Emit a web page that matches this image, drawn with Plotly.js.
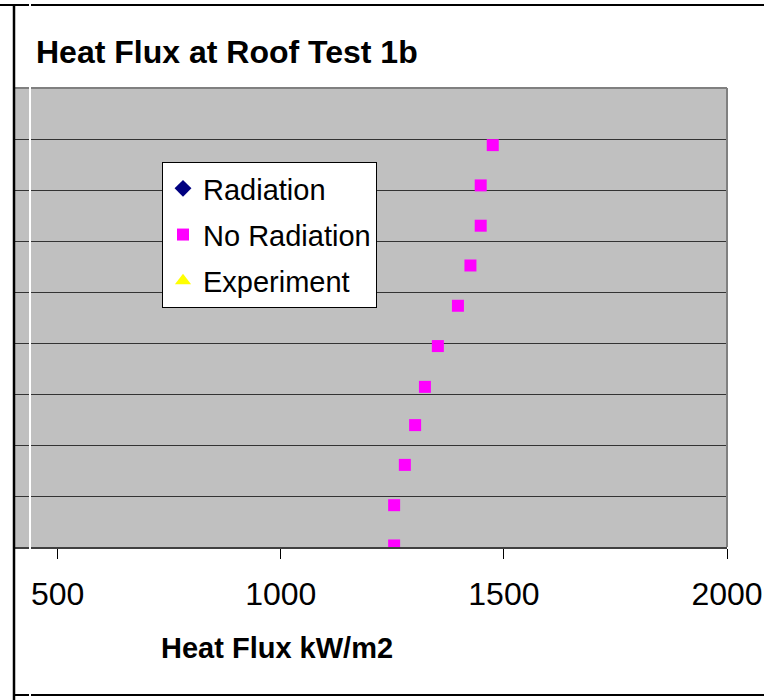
<!DOCTYPE html>
<html>
<head>
<meta charset="utf-8">
<script src="https://cdn.plot.ly/plotly-3.0.1.min.js"></script>
<style>
  html, body { margin: 0; padding: 0; background: #ffffff; }
  #chart { width: 764px; height: 700px; }
</style>
</head>
<body>
<div id="chart"></div>
<script>
// Data (Radiation and Experiment show no visible points)
const seriesNames = ["Radiation", "No Radiation", "Experiment"];
const radiationFlux = [null];
const radiationHeight = [null];
const noRadiationFlux = [1254, 1254, 1278, 1301, 1323, 1352, 1397, 1425, 1448, 1448, 1475];
const noRadiationHeight = [0.03, 0.82, 1.61, 2.39, 3.14, 3.94, 4.73, 5.52, 6.30, 7.09, 7.88];
const experimentFlux = [null];
const experimentHeight = [null];
const xTickValues = [500, 1000, 1500, 2000];
const xTickLabels = ["500", "1000", "1500", "2000"];
const chartTitle = "Heat Flux at Roof Test 1b";
const xAxisTitle = "Heat Flux kW/m2";

const FONT = "Liberation Sans, Arial, Helvetica, sans-serif";

// Plot area in pixels
const W = 764, H = 700;
const L = 15, R = 727, T = 88, B = 547;
const px = x => (x - L) / (R - L);
const py = y => (B - y) / (B - T);

const traces = [
  {
    type: "scatter", mode: "markers", name: seriesNames[0],
    x: radiationFlux, y: radiationHeight, legendgroup: "a",
    marker: { symbol: "diamond", size: 13, color: "#000080" }
  },
  {
    type: "scatter", mode: "markers", name: seriesNames[1],
    x: noRadiationFlux, y: noRadiationHeight, legendgroup: "b",
    marker: { symbol: "square", size: 12, color: "#FF00FF", line: { width: 0 } }
  },
  {
    type: "scatter", mode: "markers", name: seriesNames[2],
    x: experimentFlux, y: experimentHeight, legendgroup: "c",
    marker: { symbol: "triangle-up", size: 14, color: "#FFFF00" }
  }
];

const layout = {
  width: W, height: H,
  margin: { l: L, r: W - R, t: T, b: H - B, pad: 0 },
  paper_bgcolor: "#ffffff",
  plot_bgcolor: "#C0C0C0",
  font: { family: FONT, color: "#000000" },
  showlegend: true,
  title: {
    text: "<b>" + chartTitle + "</b>",
    font: { family: FONT, size: 32, color: "#000000" },
    xref: "container", yref: "container",
    x: 36 / W, xanchor: "left",
    y: 1 - 52 / H, yanchor: "middle"
  },
  xaxis: {
    range: [500 - (57.7 - L) / (669.3 / 1500), 2000],
    tickmode: "array", tickvals: xTickValues, ticktext: xTickLabels,
    ticks: "outside", ticklen: 10, tickwidth: 1, tickcolor: "#000000",
    ticklabelstandoff: 8,
    tickfont: { family: FONT, size: 32, color: "#000000" },
    showgrid: false, zeroline: false,
    showline: true, linecolor: "#404040", linewidth: 2,
    fixedrange: true
  },
  yaxis: {
    range: [0, 9], dtick: 1, tick0: 0,
    showticklabels: false, ticks: "",
    showgrid: true, gridcolor: "#333333", gridwidth: 1,
    zeroline: false, showline: false,
    fixedrange: true
  },
  legend: {
    x: px(162), y: py(162), xanchor: "left", yanchor: "top",
    bgcolor: "#ffffff", bordercolor: "#000000", borderwidth: 1,
    font: { family: FONT, size: 29, color: "#000000" },
    tracegroupgap: 5.5,
    traceorder: "grouped"
  },
  annotations: [
    {
      text: "<b>" + xAxisTitle + "</b>",
      xref: "paper", yref: "paper",
      x: px(277), y: py(648), xanchor: "center", yanchor: "middle",
      showarrow: false,
      font: { family: FONT, size: 29, color: "#000000" }
    }
  ],
  shapes: [
    // plot area top & right border
    { type: "line", xref: "paper", yref: "paper", x0: 0, x1: 1, y0: 1, y1: 1,
      line: { color: "#808080", width: 2 }, layer: "above" },
    { type: "line", xref: "paper", yref: "paper", x0: 1, x1: 1, y0: 0, y1: 1,
      line: { color: "#808080", width: 2 }, layer: "above" },
    // outer frame lines
    { type: "line", xref: "paper", yref: "paper", x0: px(0), x1: px(764), y0: py(5), y1: py(5),
      line: { color: "#000000", width: 2 }, layer: "above" },
    { type: "line", xref: "paper", yref: "paper", x0: px(14), x1: px(14), y0: py(5), y1: py(700),
      line: { color: "#000000", width: 2.5 }, layer: "above" },
    { type: "line", xref: "paper", yref: "paper", x0: px(14), x1: px(764), y0: py(695), y1: py(695),
      line: { color: "#000000", width: 2 }, layer: "above" },
    // white vertical streak
    { type: "line", xref: "paper", yref: "paper", x0: px(30), x1: px(30), y0: py(0), y1: py(700),
      line: { color: "#ffffff", width: 2 }, layer: "above" }
  ]
};

Plotly.newPlot("chart", traces, layout, { displayModeBar: false, staticPlot: true });
</script>
</body>
</html>
